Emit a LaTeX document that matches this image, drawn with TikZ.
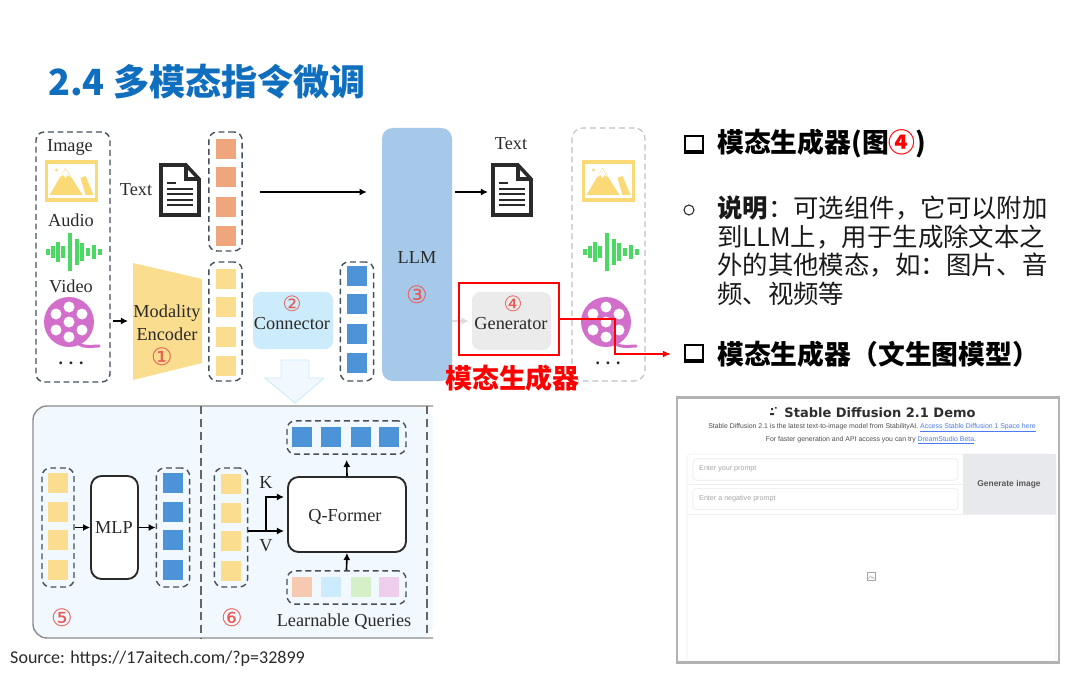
\documentclass[tikz,border=0pt]{standalone}
\usepackage{fontspec}
\usepackage{xcolor}
\usetikzlibrary{arrows.meta}
\setmainfont{Liberation Serif}
\setsansfont{Liberation Sans}
\newfontfamily\cjk{Noto Sans CJK SC}
\newfontfamily\numfont{DejaVu Sans}
\newfontfamily\capfont{Carlito}
\newfontfamily\demofont{DejaVu Sans}

\definecolor{inkdark}{HTML}{2A2A2A}
\definecolor{dashgray}{HTML}{44505C}
\definecolor{titleblue}{HTML}{0F6EBE}
\definecolor{numred}{HTML}{E85A54}
\definecolor{orangeq}{HTML}{F0A67C}
\definecolor{yellowq}{HTML}{FADD8E}
\definecolor{blueq}{HTML}{4C93D8}
\definecolor{llmblue}{HTML}{A6C9EA}
\definecolor{connblue}{HTML}{CDECFB}
\definecolor{panelblue}{HTML}{F2F9FE}
\definecolor{iconyellow}{HTML}{FBD977}
\definecolor{wavegreen}{HTML}{4BD964}
\definecolor{reelpurple}{HTML}{D26FCB}
\definecolor{linkblue}{HTML}{4A7BF0}
\definecolor{querygreen}{HTML}{D5EFC9}
\definecolor{btngray}{HTML}{E8E9ED}

\begin{document}
\begin{tikzpicture}[
  x=0.03cm, y=-0.03cm,
  serif/.style={font=\fontsize{15.6pt}{18pt}\selectfont, text=inkdark, inner sep=0},
  num/.style={font=\numfont\fontsize{20.5pt}{22pt}\selectfont, text=numred, inner sep=0},
  smallnum/.style={font=\numfont\fontsize{18pt}{20pt}\selectfont, text=numred, inner sep=0},
  sq/.style={minimum size=0.6cm, inner sep=0},
  colbox/.style={draw=dashgray, line width=1.2pt, dash pattern=on 5pt off 3.2pt, rounded corners=7pt, inner sep=0},
  vcol/.style={colbox, minimum width=1cm, minimum height=3.57cm},
  hcol/.style={colbox, minimum width=3.57cm, minimum height=1cm},
  softbox/.style={rounded corners=7pt, minimum width=2.4cm, minimum height=1.72cm, inner sep=0},
  blackbox/.style={draw=inkdark, fill=white, line width=1.6pt, rounded corners=9pt, inner sep=0},
  arrow/.style={-{Latex[length=6pt,width=6pt]}, line width=1.4pt, draw=black},
  redarrow/.style={-{Latex[length=7pt,width=6pt]}, line width=1.2pt, draw=red},
  grayarrow/.style={-{Latex[length=6pt,width=6pt]}, line width=1.1pt, draw=black!14},
  head/.style={font=\cjk\bfseries\fontsize{22.9pt}{26pt}\selectfont, anchor=west, inner sep=0},
  demotext/.style={font=\sffamily\fontsize{5.9pt}{7pt}\selectfont, text=black!70, inner sep=0},
  hint/.style={font=\sffamily\fontsize{6.1pt}{7pt}\selectfont, text=black!35, anchor=west, inner sep=0},
  field/.style={draw=black!8, line width=0.6pt, rounded corners=3pt, minimum width=7.95cm, minimum height=0.64cm, inner sep=0},
  imgicon/.pic={
    \draw[iconyellow, line width=3.2pt] (-25,-19) rectangle (25,19);
    \fill[iconyellow] (-22,14) -- (-6,-13) -- (11,14) -- cycle;
    \fill[iconyellow] (9,-3) -- (14,-5) -- (22,14) -- (14,14) -- cycle;
    \fill[white] (-11,-4) -- (-6,-12) -- (-1,-4) -- (-4,-6) -- (-6,-3) -- (-8,-6) -- cycle;
    \fill[iconyellow] (-15,-11) circle (1.7);
  },
  waveicon/.pic={
    \draw[wavegreen, line width=3pt]
      (-26,-3) -- (-26,3) (-21,-6) -- (-21,6) (-16,-10) -- (-16,10) (-11,-6) -- (-11,6)
      (-4,-19) -- (-4,19) (3,-13) -- (3,13) (8,-9) -- (8,9) (14,-4) -- (14,4)
      (20,-7) -- (20,7) (26,-3) -- (26,3);
  },
  reelicon/.pic={
    \fill[reelpurple] (0,0) circle (25);
    \draw[reelpurple, line width=2.6pt, line cap=round] (10,22) .. controls (17,26) and (23,24) .. (30,24);
    \fill[white] (0,0) circle (5.5);
    \fill[white] (0,-15) circle (5.5);
    \fill[white] (13,-8) circle (5.5);
    \fill[white] (13,8) circle (5.5);
    \fill[white] (0,15) circle (5.5);
    \fill[white] (-13,8) circle (5.5);
    \fill[white] (-13,-8) circle (5.5);
  },
  docicon/.pic={
    \draw[inkdark, line width=3pt, fill=white, line join=miter] (-19,-25) -- (6,-25) -- (19,-11) -- (19,25) -- (-19,25) -- cycle;
    \draw[inkdark, line width=2.6pt] (6,-25) -- (6,-11) -- (19,-11);
    \draw[inkdark, line width=2pt] (-13,-7) -- (-4,-7) (-13,-1) -- (13,-1) (-13,4) -- (13,4) (-13,10) -- (13,10) (-13,15) -- (13,15);
  },
  checkicon/.pic={
    \draw[black, line width=1.5pt] (-9,-8) rectangle (9,7);
    \fill[black] (-10,7) rectangle (10,10);
    \fill[black] (8,-8) rectangle (10,10);
  }
]
\useasboundingbox (0,0) rectangle (1080,674);

% Title
\node[font=\cjk\bfseries\fontsize{30.8pt}{34pt}\selectfont, text=titleblue, anchor=west, inner sep=0] (title) at (48,82) {2.4 多模态指令微调};

% Left: inputs
\node[colbox, minimum width=2.22cm, minimum height=7.5cm] (inbox) at (73,257) {};
\node[serif] (imglabel) at (70,147) {Image};
\pic at (71.5,181) {imgicon};
\node[serif] (audlabel) at (71,220) {Audio};
\pic at (74,252) {waveicon};
\node[serif] (vidlabel) at (71,286) {Video};
\pic at (69,322) {reelicon};
\node[serif, font=\bfseries\fontsize{15pt}{18pt}\selectfont] (moredots) at (71,363) {.\,\,.\,\,.};

% Encoder
\fill[yellowq] (133,263) -- (202,279) -- (202,363) -- (133,380) -- cycle;
\coordinate (encin) at (128,321);
\node[serif] (modality) at (167,313) {Modality};
\node[serif] (encoder) at (167,334) {Encoder};
\node[num] (n1) at (162,357) {①};
\draw[arrow, shorten <=2pt] (inbox.east |- encin) -- (encin);

% Text input and its column
\node[serif] (textin) at (136,190) {Text};
\pic at (180,190) {docicon};
\node[colbox, minimum width=1cm, minimum height=3.57cm] (txtcol) at (225.5,191.5) {};
\node[sq, fill=orangeq] (t1) at (226,149) {};
\node[sq, fill=orangeq] (t2) at (226,177) {};
\node[sq, fill=orangeq] (t3) at (226,207) {};
\node[sq, fill=orangeq] (t4) at (226,236) {};

% Encoded column
\node[vcol] (enccol) at (225.5,321.5) {};
\node[sq, fill=yellowq] (e1) at (226,279) {};
\node[sq, fill=yellowq] (e2) at (226,307) {};
\node[sq, fill=yellowq] (e3) at (226,337) {};
\node[sq, fill=yellowq] (e4) at (226,366) {};

% Connector
\node[softbox, fill=connblue] (conn) at (293,320.5) {};
\node[smallnum] (n2) at (292,304) {②};
\node[serif] (connlabel) at (292,324) {Connector};
\draw[draw=connblue, fill=panelblue, line width=0.8pt] (281,360) -- (309,360) -- (309,378) -- (324,378) -- (295,403) -- (265,378) -- (281,378) -- cycle;

% Connector output
\node[vcol] (concol) at (357,321.5) {};
\node[sq, fill=blueq] (c1) at (357,276) {};
\node[sq, fill=blueq] (c2) at (357,304) {};
\node[sq, fill=blueq] (c3) at (357,334) {};
\node[sq, fill=blueq] (c4) at (357,363) {};

% LLM
\node[softbox, fill=llmblue, minimum width=2.1cm, minimum height=7.59cm, rounded corners=9pt] (llm) at (417,254.5) {};
\node[serif] (llmlabel) at (417,258) {LLM};
\node[num] (n3) at (417,295) {③};
\coordinate (docout) at (488,192);
\draw[arrow, shorten <=14.5pt, shorten >=12.8pt] (txtcol.east |- docout) -- (llm.west |- docout);

% Text output
\node[serif] (textout) at (511,144) {Text};
\pic at (512,190) {docicon};
\draw[arrow, shorten <=2.6pt] (llm.east |- docout) -- (docout);

% Generator
\node[softbox, fill=black!8, minimum width=2.37cm, minimum height=1.74cm] (gen) at (511.5,321) {};
\node[smallnum] (n4) at (513,304) {④};
\node[serif] (genlabel) at (511,324) {Generator};
\draw[grayarrow, shorten >=2.6pt] (llm.east |- gen) -- (gen.west);

% Right: outputs
\node[draw=black!25, line width=0.9pt, dash pattern=on 5pt off 3.2pt, rounded corners=9pt, minimum width=2.19cm, minimum height=7.59cm, inner sep=0] (outbox) at (608.5,254.5) {};
\pic at (608.5,181) {imgicon};
\pic at (611,252) {waveicon};
\pic at (606,322) {reelicon};
\node[serif, font=\bfseries\fontsize{15pt}{18pt}\selectfont] (outdots) at (608,363) {.\,\,.\,\,.};

% Red mark over the generator
\node[draw=red, line width=1.7pt, minimum width=3cm, minimum height=2.16cm, inner sep=0] (genmark) at (509,319) {};
\node[font=\cjk\bfseries\fontsize{23pt}{26pt}\selectfont, text=red, inner sep=0] (genname) at (512.5,378) {模态生成器};
\coordinate (redturn) at (615,354);
\coordinate (redend) at (671,354);
\draw[redarrow] (genmark.east) -| (redturn) -- (redend);

% Lower panel, open on its right side
\fill[panelblue, rounded corners=12pt] (433,406) -- (33,406) -- (33,638) -- (433,638) -- cycle;
\draw[draw=black!45, line width=1.2pt, rounded corners=12pt] (433,406) -- (33,406) -- (33,638) -- (433,638);
\draw[black!60, line width=1pt, dash pattern=on 7pt off 4pt] (201,406) -- (201,638);
\draw[black!60, line width=1pt, dash pattern=on 7pt off 4pt] (427,406) -- (427,634);

% Panel 5: MLP
\node[vcol, minimum width=0.96cm] (in5) at (58,527.5) {};
\node[sq, fill=yellowq] (a1) at (58,483) {};
\node[sq, fill=yellowq] (a2) at (58,512) {};
\node[sq, fill=yellowq] (a3) at (58,540) {};
\node[sq, fill=yellowq] (a4) at (58,570) {};
\node[blackbox, minimum width=1.41cm, minimum height=3.09cm] (mlp) at (114.5,527.5) {};
\node[serif] (mlplabel) at (114,528) {MLP};
\node[vcol] (out5) at (173,527.5) {};
\node[sq, fill=blueq] (b1) at (173,483) {};
\node[sq, fill=blueq] (b2) at (173,512) {};
\node[sq, fill=blueq] (b3) at (173,540) {};
\node[sq, fill=blueq] (b4) at (173,570) {};
\draw[arrow] (in5.east) -- (mlp.west);
\draw[arrow] (mlp.east) -- (out5.west);
\node[num] (n5) at (62,618) {⑤};

% Panel 6: Q-Former
\node[vcol] (in6) at (231,527.5) {};
\node[sq, fill=yellowq] (y1) at (231,484) {};
\node[sq, fill=yellowq] (y2) at (231,513) {};
\node[sq, fill=yellowq] (y3) at (231,541) {};
\node[sq, fill=yellowq] (y4) at (231,571) {};
\node[blackbox, minimum width=3.54cm, minimum height=2.25cm] (qf) at (347,514.5) {};
\node[serif] (qflabel) at (345,517) {Q-Former};
\coordinate (vstart) at (248,531);
\coordinate (vbend) at (266,531);
\coordinate (vend) at (284,531);
\coordinate (kend) at (284,497);
\draw[arrow] (vstart) -- (vend);
\draw[arrow] (vbend) |- (kend);
\node[serif] (klabel) at (266,483) {K};
\node[serif] (vlabel) at (266,546) {V};

\node[hcol] (outq) at (346.5,437.5) {};
\node[sq, fill=blueq] (q1) at (302,437) {};
\node[sq, fill=blueq] (q2) at (331,437) {};
\node[sq, fill=blueq] (q3) at (361,437) {};
\node[sq, fill=blueq] (q4) at (389,437) {};
\node[hcol] (inq) at (346.5,587.5) {};
\node[sq, fill=orangeq!60] (l1) at (302,587) {};
\node[sq, fill=connblue] (l2) at (331,587) {};
\node[sq, fill=querygreen] (l3) at (361,587) {};
\node[sq, fill=reelpurple!35] (l4) at (389,587) {};
\draw[arrow, shorten >=4.3pt] (qf.north) -- (outq.south);
\draw[arrow] (inq.north) -- (qf.south);
\node[serif] (lqlabel) at (344,622) {Learnable Queries};
\node[num] (n6) at (232,618) {⑥};

% Source line
\node[font=\capfont\fontsize{15.4pt}{17pt}\selectfont, text=inkdark, anchor=west, inner sep=0] (source) at (10,659) {Source: https://17aitech.com/?p=32899};

% Right text
\pic at (694,144) {checkicon};
\node[head] (head1) at (717,144) {模态生成器(图{\color{red}④})};
\draw[inkdark, line width=0.9pt] (689,210) circle (5);
\node[font=\cjk\fontsize{21.7pt}{24.3pt}\selectfont, text=black!90, align=left, anchor=north west, inner sep=0] (body) at (717,196) {{\bfseries 说明}：可选组件，它可以附加\\到LLM上，用于生成除文本之\\外的其他模态，如：图片、音\\频、视频等};
\pic at (694,353) {checkicon};
\node[head] (head2) at (717,354) {模态生成器（文生图模型）};

% Demo screenshot
\node[draw=black!30, fill=white, line width=2pt, minimum width=11.46cm, minimum height=7.95cm, inner sep=0] (demo) at (868,530) {};
\fill[black!80] (771,408) rectangle (773,410) (775,407) rectangle (776.5,408.5) (770,413) rectangle (774,415);
\node[font=\demofont\bfseries\fontsize{11.1pt}{13pt}\selectfont, text=black!82, inner sep=0] (demotitle) at (880,413) {Stable Diffusion 2.1 Demo};
\node[demotext] (demoline1) at (872,428) {Stable Diffusion 2.1 is the latest text-to-image model from StabilityAI. {\color{linkblue}\underline{Access Stable Diffusion 1 Space here}}};
\node[demotext] (demoline2) at (871,440) {For faster generation and API access you can try {\color{linkblue}\underline{DreamStudio Beta}}.};
\draw[draw=black!6, line width=0.6pt, rounded corners=3pt] (687,661) -- (687,454) -- (1056,454) -- (1056,661);
\node[field] (prompt1) at (825.5,469.5) {};
\node[field] (prompt2) at (825.5,499) {};
\node[hint] (hint1) at (699,469) {Enter your prompt};
\node[hint] (hint2) at (699,499) {Enter a negative prompt};
\draw[draw=black!6, line width=0.6pt] (687,484) -- (963,484) (687,514) -- (1056,514);
\node[fill=btngray, minimum width=2.79cm, minimum height=1.8cm, inner sep=0] (genbtn) at (1009.5,484) {};
\node[font=\sffamily\bfseries\fontsize{7.2pt}{8pt}\selectfont, text=black!65, inner sep=0] (genbtnlabel) at (1009,484) {Generate image};
\draw[black!35, line width=0.5pt] (867,572) rectangle (875,580);
\draw[black!35, line width=0.4pt] (868,579) -- (870.5,576) -- (872,578) -- (873,577) -- (874.5,579);

\end{tikzpicture}
\end{document}
